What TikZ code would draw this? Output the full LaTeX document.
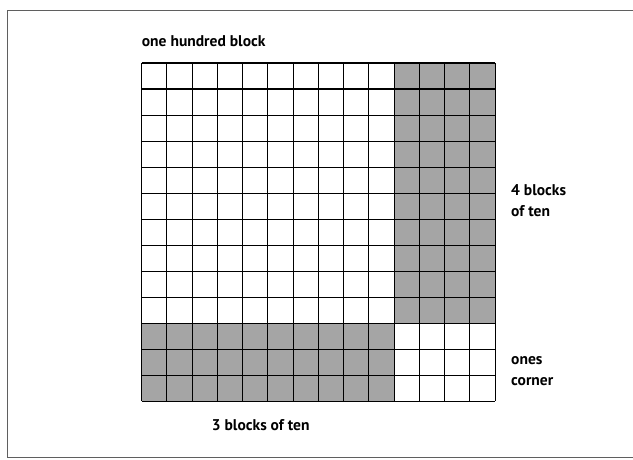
\documentclass[tikz,border=0pt]{standalone}
\usepackage{fontspec}
\setmainfont{PT Sans}
\usepackage{tikz}
\definecolor{shadegray}{RGB}{165,165,165}
\definecolor{framegray}{RGB}{95,95,95}
\tikzset{
  lbl/.style={inner sep=0pt, font=\fontsize{15.6}{20.8}\selectfont\bfseries, align=left},
  tenblock/.style={fill=shadegray, draw=none},
  gridline/.style={line width=1.1bp, black}
}

\begin{document}
\begin{tikzpicture}[x=1bp, y=-1bp]
\useasboundingbox (0,0) rectangle (633,460);
% page frame (right side runs off the scan)
\draw[framegray, line width=0.9bp] (645,10) -- (7,10) -- (7,457) -- (645,457);
% the hundred block: 14 columns by 13 rows
\begin{scope}[shift={(141.7,63)}, x=25.24bp, y=-26.03bp]
  \coordinate (nw) at (0,0);
  \coordinate (se) at (14,13);
  % 4 blocks of ten (right strip) and 3 blocks of ten (bottom strip)
  \fill[tenblock] (10,0) rectangle (14,10);
  \fill[tenblock] (0,10) rectangle (10,13);
  \foreach \i in {0,...,14} \draw[gridline] (\i,0) -- (\i,13);
  \foreach \j in {0,...,13} \draw[gridline] (0,\j) -- (14,\j);
\end{scope}
% labels
\node[lbl, anchor=base west] (hundred) at (141.7,46.5) {one hundred block};
\node[lbl, anchor=base west] (bottomtens) at (211.7,430) {3 blocks of ten};
\node[lbl, anchor=base west] (righttens) at (511,216.7) {4 blocks\\of ten};
\node[lbl, anchor=base west] (ones) at (511,385) {ones\\corner};
\end{tikzpicture}
\end{document}
